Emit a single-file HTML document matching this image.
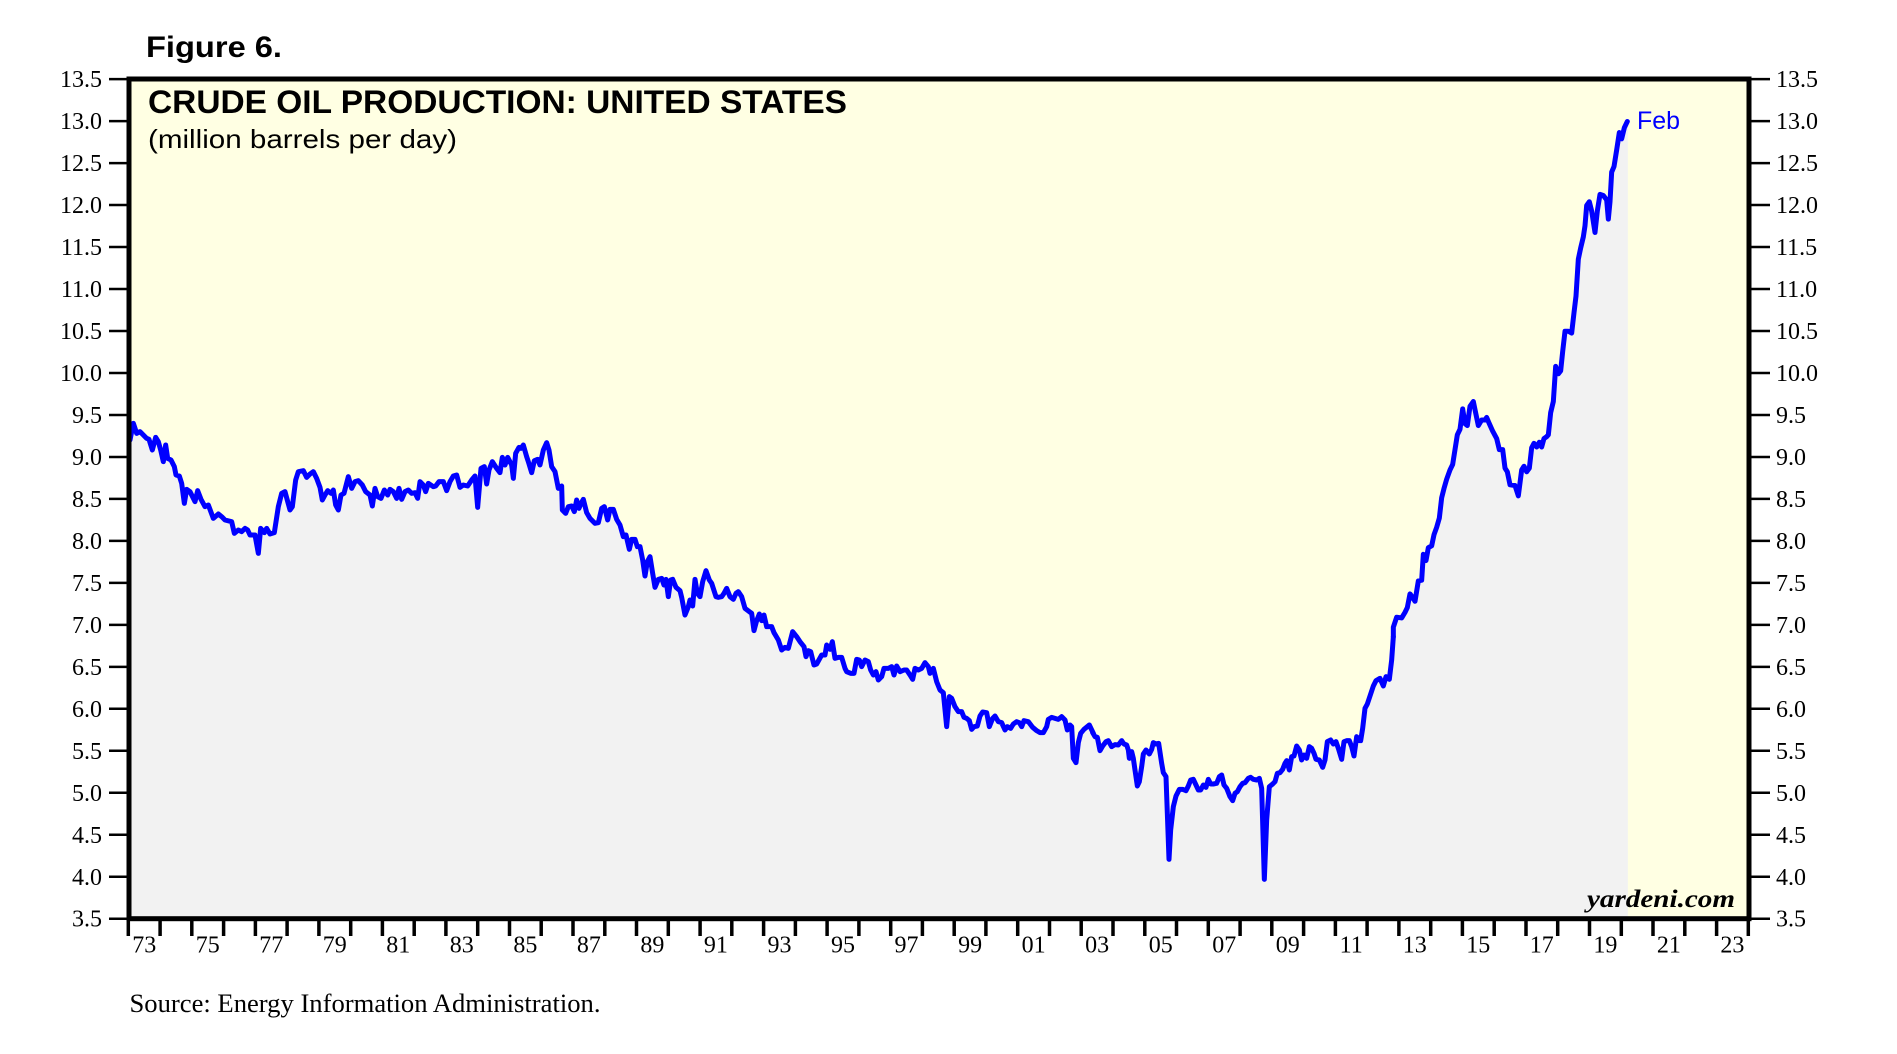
<!DOCTYPE html>
<html><head><meta charset="utf-8"><style>
html,body{margin:0;padding:0;background:#fff;}
svg{display:block;}
</style></head><body>
<svg width="1897" height="1054" viewBox="0 0 1897 1054" xmlns="http://www.w3.org/2000/svg">
<rect x="0" y="0" width="1897" height="1054" fill="#ffffff"/>
<rect x="129" y="79" width="1620" height="840" fill="#FFFFE3"/>

<g fill="#F2F2F2" stroke="#F2F2F2" stroke-width="1">
<g transform="translate(125,400) scale(0.333333)"><polygon vector-effect="non-scaling-stroke" points="15,120 25,70 35,100 45,95 55,105 65,115 72,118 82,150 92,112 100,125 107,150 115,185 122,135 128,175 138,180 148,200 153,225 163,228 170,250 178,310 185,268 195,275 210,305 218,272 228,298 240,320 250,315 265,355 280,342 290,350 300,360 320,365 328,400 340,390 350,395 360,385 368,390 375,405 390,405 400,460 407,385 418,398 425,385 435,402 448,398 460,320 470,280 480,275 495,330 502,320 512,240 520,215 535,212 545,232 555,222 565,215 575,235 585,262 592,300 600,285 608,272 618,280 625,270 632,315 640,330 648,285 657,280 670,230 680,265 690,245 700,242 712,255 722,275 735,285 742,318 750,265 758,290 768,295 778,270 788,285 795,268 805,275 815,295 822,265 830,298 840,275 850,270 860,280 870,278 878,295 885,245 895,255 902,275 910,250 925,260 932,258 942,245 955,245 965,272 975,245 985,228 995,225 1005,262 1015,255 1028,258 1040,240 1050,228 1058,322 1068,205 1078,200 1085,252 1092,210 1102,185 1115,205 1125,218 1132,172 1140,195 1148,172 1160,195 1165,235 1172,160 1182,142 1188,145 1195,135 1205,170 1210,185 1220,218 1228,182 1238,178 1245,195 1255,150 1265,128 1272,150 1280,200 1290,215 1300,265 1310,258 1312,330 1322,340 1330,320 1340,318 1348,335 1355,300 1362,325 1368,310 1375,298 1385,338 1395,355 1410,370 1420,368 1430,325 1438,320 1448,360 1455,328 1465,328 1475,358 1485,375 1495,410 1495,1556 15,1556"/></g>
<g transform="translate(600,500) scale(0.333333)"><polygon vector-effect="non-scaling-stroke" points="70,105 78,105 88,148 95,118 105,118 112,140 120,140 128,180 135,228 142,185 150,170 158,220 165,262 175,238 185,235 192,255 198,238 205,290 212,240 218,238 228,262 240,272 245,292 255,345 265,320 270,300 278,318 285,238 292,280 300,290 308,245 318,212 328,240 335,250 348,290 355,292 365,290 372,280 380,265 390,290 400,298 408,280 415,275 425,290 435,325 448,335 455,340 462,392 470,362 478,342 485,362 492,345 500,380 515,380 522,398 535,420 545,450 555,442 565,445 578,395 590,410 600,425 612,440 618,470 625,452 632,455 642,495 650,492 665,465 675,465 680,435 690,448 697,425 705,475 715,472 725,472 735,505 740,515 752,520 762,520 770,478 778,480 785,500 795,480 805,485 812,510 820,525 828,515 835,540 845,530 852,505 865,505 875,500 882,525 890,498 900,515 912,510 920,510 930,525 938,538 945,505 955,510 965,505 975,488 985,500 990,520 1000,505 1010,545 1020,570 1030,578 1040,680 1048,590 1055,595 1065,620 1075,635 1085,635 1092,652 1100,655 1108,662 1115,688 1122,680 1132,678 1140,648 1148,636 1160,638 1168,680 1178,655 1185,648 1195,665 1205,668 1215,690 1222,680 1232,685 1240,672 1250,665 1258,668 1265,680 1272,662 1285,665 1298,682 1310,692 1320,698 1330,698 1340,680 1345,658 1355,652 1365,655 1375,658 1385,650 1395,660 1402,690 1410,675 1415,680 1420,775 1428,788 1435,728 1442,700 1452,688 1468,675 1480,700 1480,1256 70,1256"/></g>
<g transform="translate(1080,580) scale(0.333333)"><polygon vector-effect="non-scaling-stroke" points="38,458 45,470 52,472 60,512 68,498 78,485 85,482 95,500 105,494 115,495 125,482 132,492 140,495 145,510 148,535 155,515 160,535 165,570 172,618 178,605 185,560 190,522 198,510 208,522 215,508 220,488 228,492 236,490 245,550 250,578 258,590 262,700 267,838 272,750 280,680 288,648 298,628 308,628 318,632 325,618 332,600 340,598 348,615 355,630 362,630 370,615 378,622 385,598 392,612 400,612 410,610 418,590 425,585 432,615 440,625 450,650 458,662 465,640 472,635 480,620 488,610 495,608 505,595 512,592 520,598 530,600 538,595 545,625 553,898 560,720 568,620 578,612 585,605 592,580 600,578 608,568 615,550 620,542 628,570 635,530 642,528 650,498 658,510 665,540 672,525 680,535 688,500 695,505 702,520 708,538 718,540 728,562 735,540 742,485 752,480 760,492 768,485 775,505 785,538 792,485 800,482 808,482 815,500 822,528 830,470 838,482 842,482 848,445 855,385 862,372 870,348 880,318 888,302 900,295 910,318 918,290 928,298 935,240 940,170 940,1016 38,1016"/></g>
<g transform="translate(1390,100) scale(0.333333,0.369959)"><polygon vector-effect="non-scaling-stroke" points="10,1451 10,1425 20,1398 35,1400 45,1385 52,1372 60,1335 68,1345 75,1355 85,1300 95,1298 100,1228 108,1245 115,1210 125,1205 132,1175 140,1155 148,1130 155,1075 162,1050 170,1025 180,1000 188,985 195,945 202,905 210,890 218,835 225,875 232,880 240,828 250,815 258,850 265,880 275,865 285,865 290,858 298,875 308,895 320,915 328,945 338,945 345,995 352,1005 360,1040 375,1042 385,1070 395,1000 402,990 410,1005 418,995 425,940 432,928 440,938 448,925 455,938 462,915 470,910 475,905 482,845 490,815 497,720 505,740 512,732 518,680 525,625 535,625 545,630 552,575 558,530 565,430 572,400 580,370 585,340 590,285 598,275 605,300 615,358 622,300 630,255 640,258 650,270 655,322 660,275 665,195 672,180 680,135 688,88 695,105 703,75 712,58 712,2213 10,2213"/></g>
</g>

<g fill="none" stroke="#0000FF" stroke-width="5" stroke-linejoin="round" stroke-linecap="round">
<g transform="translate(125,400) scale(0.333333)"><polyline vector-effect="non-scaling-stroke" points="15,120 25,70 35,100 45,95 55,105 65,115 72,118 82,150 92,112 100,125 107,150 115,185 122,135 128,175 138,180 148,200 153,225 163,228 170,250 178,310 185,268 195,275 210,305 218,272 228,298 240,320 250,315 265,355 280,342 290,350 300,360 320,365 328,400 340,390 350,395 360,385 368,390 375,405 390,405 400,460 407,385 418,398 425,385 435,402 448,398 460,320 470,280 480,275 495,330 502,320 512,240 520,215 535,212 545,232 555,222 565,215 575,235 585,262 592,300 600,285 608,272 618,280 625,270 632,315 640,330 648,285 657,280 670,230 680,265 690,245 700,242 712,255 722,275 735,285 742,318 750,265 758,290 768,295 778,270 788,285 795,268 805,275 815,295 822,265 830,298 840,275 850,270 860,280 870,278 878,295 885,245 895,255 902,275 910,250 925,260 932,258 942,245 955,245 965,272 975,245 985,228 995,225 1005,262 1015,255 1028,258 1040,240 1050,228 1058,322 1068,205 1078,200 1085,252 1092,210 1102,185 1115,205 1125,218 1132,172 1140,195 1148,172 1160,195 1165,235 1172,160 1182,142 1188,145 1195,135 1205,170 1210,185 1220,218 1228,182 1238,178 1245,195 1255,150 1265,128 1272,150 1280,200 1290,215 1300,265 1310,258 1312,330 1322,340 1330,320 1340,318 1348,335 1355,300 1362,325 1368,310 1375,298 1385,338 1395,355 1410,370 1420,368 1430,325 1438,320 1448,360 1455,328 1465,328 1475,358 1485,375 1495,410"/></g>
<g transform="translate(600,500) scale(0.333333)"><polyline vector-effect="non-scaling-stroke" points="70,105 78,105 88,148 95,118 105,118 112,140 120,140 128,180 135,228 142,185 150,170 158,220 165,262 175,238 185,235 192,255 198,238 205,290 212,240 218,238 228,262 240,272 245,292 255,345 265,320 270,300 278,318 285,238 292,280 300,290 308,245 318,212 328,240 335,250 348,290 355,292 365,290 372,280 380,265 390,290 400,298 408,280 415,275 425,290 435,325 448,335 455,340 462,392 470,362 478,342 485,362 492,345 500,380 515,380 522,398 535,420 545,450 555,442 565,445 578,395 590,410 600,425 612,440 618,470 625,452 632,455 642,495 650,492 665,465 675,465 680,435 690,448 697,425 705,475 715,472 725,472 735,505 740,515 752,520 762,520 770,478 778,480 785,500 795,480 805,485 812,510 820,525 828,515 835,540 845,530 852,505 865,505 875,500 882,525 890,498 900,515 912,510 920,510 930,525 938,538 945,505 955,510 965,505 975,488 985,500 990,520 1000,505 1010,545 1020,570 1030,578 1040,680 1048,590 1055,595 1065,620 1075,635 1085,635 1092,652 1100,655 1108,662 1115,688 1122,680 1132,678 1140,648 1148,636 1160,638 1168,680 1178,655 1185,648 1195,665 1205,668 1215,690 1222,680 1232,685 1240,672 1250,665 1258,668 1265,680 1272,662 1285,665 1298,682 1310,692 1320,698 1330,698 1340,680 1345,658 1355,652 1365,655 1375,658 1385,650 1395,660 1402,690 1410,675 1415,680 1420,775 1428,788 1435,728 1442,700 1452,688 1468,675 1480,700"/></g>
<g transform="translate(1080,580) scale(0.333333)"><polyline vector-effect="non-scaling-stroke" points="38,458 45,470 52,472 60,512 68,498 78,485 85,482 95,500 105,494 115,495 125,482 132,492 140,495 145,510 148,535 155,515 160,535 165,570 172,618 178,605 185,560 190,522 198,510 208,522 215,508 220,488 228,492 236,490 245,550 250,578 258,590 262,700 267,838 272,750 280,680 288,648 298,628 308,628 318,632 325,618 332,600 340,598 348,615 355,630 362,630 370,615 378,622 385,598 392,612 400,612 410,610 418,590 425,585 432,615 440,625 450,650 458,662 465,640 472,635 480,620 488,610 495,608 505,595 512,592 520,598 530,600 538,595 545,625 553,898 560,720 568,620 578,612 585,605 592,580 600,578 608,568 615,550 620,542 628,570 635,530 642,528 650,498 658,510 665,540 672,525 680,535 688,500 695,505 702,520 708,538 718,540 728,562 735,540 742,485 752,480 760,492 768,485 775,505 785,538 792,485 800,482 808,482 815,500 822,528 830,470 838,482 842,482 848,445 855,385 862,372 870,348 880,318 888,302 900,295 910,318 918,290 928,298 935,240 940,170"/></g>
<g transform="translate(1390,100) scale(0.333333,0.369959)"><polyline vector-effect="non-scaling-stroke" points="10,1451 10,1425 20,1398 35,1400 45,1385 52,1372 60,1335 68,1345 75,1355 85,1300 95,1298 100,1228 108,1245 115,1210 125,1205 132,1175 140,1155 148,1130 155,1075 162,1050 170,1025 180,1000 188,985 195,945 202,905 210,890 218,835 225,875 232,880 240,828 250,815 258,850 265,880 275,865 285,865 290,858 298,875 308,895 320,915 328,945 338,945 345,995 352,1005 360,1040 375,1042 385,1070 395,1000 402,990 410,1005 418,995 425,940 432,928 440,938 448,925 455,938 462,915 470,910 475,905 482,845 490,815 497,720 505,740 512,732 518,680 525,625 535,625 545,630 552,575 558,530 565,430 572,400 580,370 585,340 590,285 598,275 605,300 615,358 622,300 630,255 640,258 650,270 655,322 660,275 665,195 672,180 680,135 688,88 695,105 703,75 712,58"/></g>
</g>

<!-- frame -->
<rect x="129" y="79" width="1620" height="839.7" fill="none" stroke="#000" stroke-width="5"/>

<!-- y ticks -->
<g stroke="#000" stroke-width="2.5">
<path d="M109 79.1H127M109 121.1H127M109 163.1H127M109 205H127M109 247H127M109 289H127M109 331H127M109 373H127M109 415H127M109 457H127M109 498.9H127M109 540.9H127M109 582.9H127M109 624.9H127M109 666.9H127M109 708.8H127M109 750.8H127M109 792.8H127M109 834.8H127M109 876.8H127M109 918.7H127"/>
<path d="M1751 79.1H1770M1751 121.1H1770M1751 163.1H1770M1751 205H1770M1751 247H1770M1751 289H1770M1751 331H1770M1751 373H1770M1751 415H1770M1751 457H1770M1751 498.9H1770M1751 540.9H1770M1751 582.9H1770M1751 624.9H1770M1751 666.9H1770M1751 708.8H1770M1751 750.8H1770M1751 792.8H1770M1751 834.8H1770M1751 876.8H1770M1751 918.7H1770"/>
</g>
<!-- x ticks -->
<path stroke="#000" stroke-width="3.5" d="M128.3 918V936M160.1 918V936M191.8 918V936M223.6 918V936M255.4 918V936M287.1 918V936M318.9 918V936M350.7 918V936M382.4 918V936M414.2 918V936M445.9 918V936M477.7 918V936M509.5 918V936M541.2 918V936M573 918V936M604.8 918V936M636.5 918V936M668.3 918V936M700.1 918V936M731.8 918V936M763.6 918V936M795.4 918V936M827.1 918V936M858.9 918V936M890.7 918V936M922.4 918V936M954.2 918V936M985.9 918V936M1017.7 918V936M1049.5 918V936M1081.2 918V936M1113 918V936M1144.8 918V936M1176.5 918V936M1208.3 918V936M1240.1 918V936M1271.8 918V936M1303.6 918V936M1335.4 918V936M1367.1 918V936M1398.9 918V936M1430.7 918V936M1462.4 918V936M1494.2 918V936M1526 918V936M1557.7 918V936M1589.5 918V936M1621.3 918V936M1653 918V936M1684.8 918V936M1716.6 918V936M1748.3 918V936"/>

<!-- y labels -->
<g font-family="'Liberation Serif', serif" font-size="24" fill="#000">
<g text-anchor="end">
<text x="102" y="87.1">13.5</text><text x="102" y="129.1">13.0</text><text x="102" y="171.1">12.5</text><text x="102" y="213">12.0</text><text x="102" y="255">11.5</text><text x="102" y="297">11.0</text><text x="102" y="339">10.5</text><text x="102" y="381">10.0</text><text x="102" y="423">9.5</text><text x="102" y="465">9.0</text><text x="102" y="506.9">8.5</text><text x="102" y="548.9">8.0</text><text x="102" y="590.9">7.5</text><text x="102" y="632.9">7.0</text><text x="102" y="674.9">6.5</text><text x="102" y="716.8">6.0</text><text x="102" y="758.8">5.5</text><text x="102" y="800.8">5.0</text><text x="102" y="842.8">4.5</text><text x="102" y="884.8">4.0</text><text x="102" y="926.7">3.5</text>
</g>
<g text-anchor="start">
<text x="1776" y="87.1">13.5</text><text x="1776" y="129.1">13.0</text><text x="1776" y="171.1">12.5</text><text x="1776" y="213">12.0</text><text x="1776" y="255">11.5</text><text x="1776" y="297">11.0</text><text x="1776" y="339">10.5</text><text x="1776" y="381">10.0</text><text x="1776" y="423">9.5</text><text x="1776" y="465">9.0</text><text x="1776" y="506.9">8.5</text><text x="1776" y="548.9">8.0</text><text x="1776" y="590.9">7.5</text><text x="1776" y="632.9">7.0</text><text x="1776" y="674.9">6.5</text><text x="1776" y="716.8">6.0</text><text x="1776" y="758.8">5.5</text><text x="1776" y="800.8">5.0</text><text x="1776" y="842.8">4.5</text><text x="1776" y="884.8">4.0</text><text x="1776" y="926.7">3.5</text>
</g>
<g text-anchor="middle">
<text x="144.2" y="952.7">73</text><text x="207.7" y="952.7">75</text><text x="271.3" y="952.7">77</text><text x="334.8" y="952.7">79</text><text x="398.3" y="952.7">81</text><text x="461.8" y="952.7">83</text><text x="525.4" y="952.7">85</text><text x="588.9" y="952.7">87</text><text x="652.4" y="952.7">89</text><text x="715.9" y="952.7">91</text><text x="779.5" y="952.7">93</text><text x="843" y="952.7">95</text><text x="906.5" y="952.7">97</text><text x="970.1" y="952.7">99</text><text x="1033.6" y="952.7">01</text><text x="1097.1" y="952.7">03</text><text x="1160.7" y="952.7">05</text><text x="1224.2" y="952.7">07</text><text x="1287.7" y="952.7">09</text><text x="1351.2" y="952.7">11</text><text x="1414.8" y="952.7">13</text><text x="1478.3" y="952.7">15</text><text x="1541.8" y="952.7">17</text><text x="1605.4" y="952.7">19</text><text x="1668.9" y="952.7">21</text><text x="1732.4" y="952.7">23</text>
</g>
</g>

<!-- titles -->
<text x="146" y="57" font-family="'Liberation Sans', Arial, sans-serif" font-weight="bold" font-size="30" textLength="136" lengthAdjust="spacingAndGlyphs" fill="#000">Figure 6.</text>
<text x="148" y="113" font-family="'Liberation Sans', Arial, sans-serif" font-weight="bold" font-size="32" textLength="699" lengthAdjust="spacingAndGlyphs" fill="#000">CRUDE OIL PRODUCTION: UNITED STATES</text>
<text x="148" y="148" font-family="'Liberation Sans', Arial, sans-serif" font-size="26" textLength="309" lengthAdjust="spacingAndGlyphs" fill="#000">(million barrels per day)</text>
<text x="1637" y="129" font-family="'Liberation Sans', Arial, sans-serif" font-size="25" textLength="43" lengthAdjust="spacingAndGlyphs" fill="#0000FF">Feb</text>
<text x="1587" y="907" font-family="'Liberation Serif', serif" font-weight="bold" font-style="italic" font-size="25" textLength="148" lengthAdjust="spacingAndGlyphs" fill="#000">yardeni.com</text>
<text x="129.5" y="1012" font-family="'Liberation Serif', serif" font-size="26" textLength="471" lengthAdjust="spacingAndGlyphs" fill="#000">Source: Energy Information Administration.</text>
</svg>
</body></html>
